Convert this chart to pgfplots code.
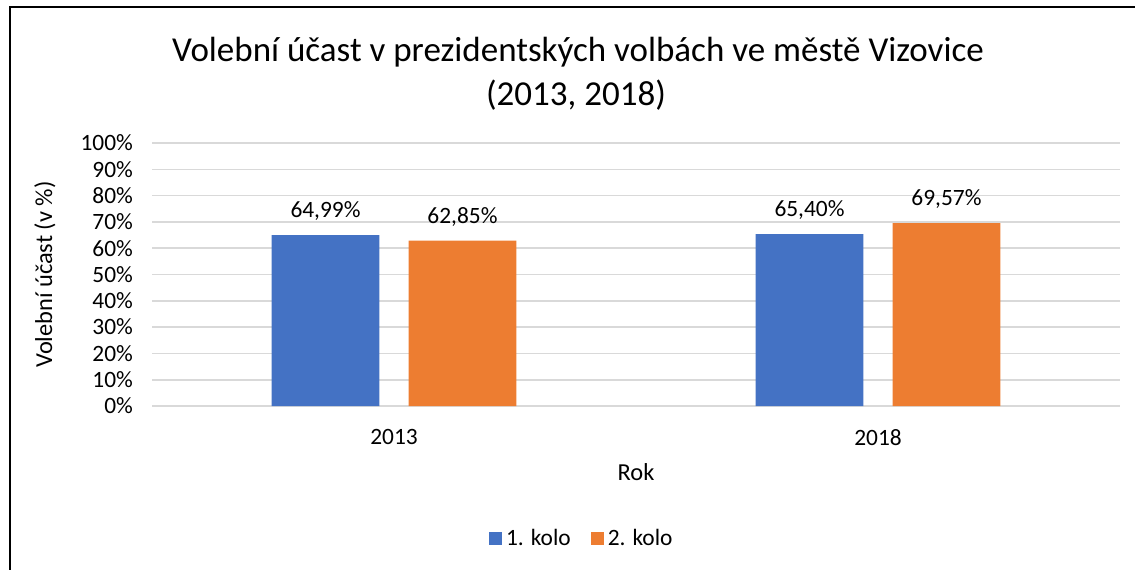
\documentclass[border=0pt]{standalone}
\usepackage{pgfplots}
\pgfplotsset{compat=1.18}
\usepackage{fontspec}
\setmainfont{Carlito}
\definecolor{cblue}{HTML}{4472C4}
\definecolor{corange}{HTML}{ED7D31}
\definecolor{cgrid}{HTML}{D9D9D9}
\begin{document}
\begin{tikzpicture}
\useasboundingbox (0,0) rectangle (567.5pt,284.5pt);
\draw[line width=0.9pt] (5pt,-1pt) -- (5pt,281pt) -- (570pt,281pt);
\node[font=\fontsize{17.5}{21}\selectfont] at (289pt,258.5pt) {Volební účast v prezidentských volbách ve městě Vizovice};
\node[font=\fontsize{17.5}{21}\selectfont] at (288pt,237pt) {(2013, 2018)};
\begin{axis}[
  at={(76pt,81.5pt)}, anchor=south west,
  scale only axis, width=484pt, height=131.5pt,
  xmin=-0.5, xmax=1.5, ymin=0, ymax=100,
  xtick={0,1}, xticklabels={2013,2018},
  ytick={0,10,...,100},
  yticklabel={\pgfmathprintnumber{\tick}\%},
  /pgf/number format/assume math mode=true,
  tick label style={font=\fontsize{11.7}{14}\selectfont},
  major tick length=0pt,
  ymajorgrids, grid style={cgrid, line width=0.8pt},
  axis line style={draw=none},
  yticklabel style={xshift=-6pt},
  xticklabel style={yshift=-8pt},
  ybar, bar width=0.223,
  nodes near coords={\pgfmathprintnumber[use comma, fixed, fixed zerofill, precision=2]{\pgfplotspointmeta}\%},
  nodes near coords style={font=\fontsize{11.7}{14}\selectfont, anchor=center, yshift=12pt},
  xlabel={Rok}, ylabel={Volební účast (v \%)},
  label style={font=\fontsize{12.2}{14}\selectfont},
  xlabel style={at={(0.5,0)}, anchor=center, yshift=-33pt},
  ylabel style={at={(0,0.5)}, anchor=center, yshift=53.5pt},
  legend style={at={(0.445,-0.506)}, anchor=center, draw=none, legend columns=2,
    font=\fontsize{11.7}{14}\selectfont, /tikz/every even column/.append style={column sep=8pt}},
  legend image code/.code={\fill[#1] (0pt,-3.2pt) rectangle (6.5pt,3.3pt);},
]
\addplot[fill=cblue, draw=none, bar shift=-0.1415] coordinates {(0,64.99) (1,65.40)};
\addplot[fill=corange, draw=none, bar shift=0.1415] coordinates {(0,62.85) (1,69.57)};
\legend{1. kolo, 2. kolo}
\end{axis}
\end{tikzpicture}
\end{document}
